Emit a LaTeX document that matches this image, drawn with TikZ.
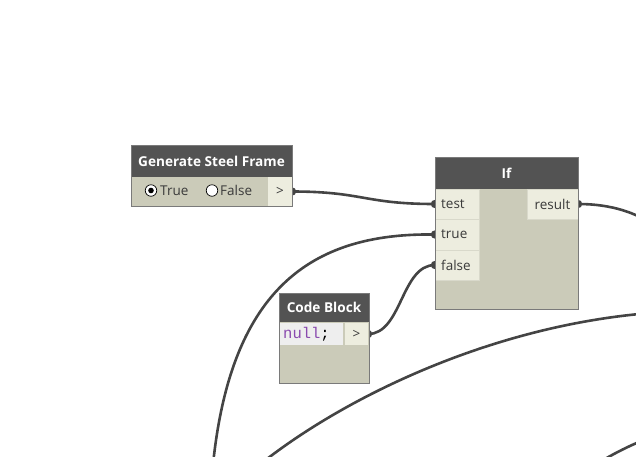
\documentclass[tikz,border=0pt]{standalone}
\usepackage{fontspec}
\setmainfont{Open Sans}
\setmonofont{Liberation Mono}
\definecolor{hdr}{HTML}{535353}
\definecolor{bodyc}{HTML}{CBCBB9}
\definecolor{portc}{HTML}{EDEDDF}
\definecolor{inpc}{HTML}{EEEEEE}
\definecolor{sepc}{HTML}{D9D9CB}
\definecolor{wire}{HTML}{444444}
\definecolor{edgec}{HTML}{7A7A7A}
\definecolor{kw}{HTML}{8A4BAF}
\definecolor{txt}{HTML}{3A3A3A}
\pgfdeclarelayer{background}
\pgfsetlayers{background,main}
\begin{document}
\begin{tikzpicture}[x=1pt,y=-1pt,
  nbody/.style={fill=bodyc,anchor=north west,inner sep=0pt,outer sep=0pt},
  hdrbox/.style={fill=hdr,anchor=north west,inner sep=0pt,outer sep=0pt,text=white,font=\bfseries\fontsize{13.6}{16}\selectfont},
  cell/.style={fill=portc,draw=sepc,line width=0.6pt,anchor=north west,inner sep=0pt,outer sep=0pt,font=\fontsize{13.5}{16}\selectfont,text=txt},
  lbl/.style={anchor=west,inner sep=0pt,font=\fontsize{13.5}{16}\selectfont,text=txt},
  outline/.style={draw=edgec,line width=0.8pt},
  wirestyle/.style={draw=wire,line width=2.6pt},
  portdot/.style={fill=wire},
  radio/.style={circle,draw=black,fill=white,line width=0.7pt,minimum size=11.5pt,inner sep=0pt}
]
\useasboundingbox (0,0) rectangle (636,456);

% ---------- Generate Steel Frame ----------
\node[nbody,minimum width=161pt,minimum height=61pt] (gsf) at (131,145) {};
\node[hdrbox,minimum width=161pt,minimum height=32pt] (gsfh) at (131,145) {Generate Steel Frame};
\node[cell,draw=none,minimum width=24pt,minimum height=29pt] (gsfo) at (268,177) {>};
\node[radio] (rt) at (151,190.5) {};
\fill (rt) circle (2.8pt);
\node[lbl] (lt) at (160,190.5) {True};
\node[radio] (rf) at (212,190.5) {};
\node[lbl] (lf) at (220,190.5) {False};
\draw[outline] (gsf.north west) rectangle (gsf.south east);

% ---------- If ----------
\node[nbody,minimum width=143pt,minimum height=152pt] (ifn) at (435,157) {};
\node[hdrbox,minimum width=143pt,minimum height=32pt] (ifh) at (435,157) {If};
\node[cell,minimum width=44pt,minimum height=30pt] (ifte) at (435,189) {};
\node[cell,minimum width=44pt,minimum height=31pt] (iftr) at (435,219) {};
\node[cell,minimum width=44pt,minimum height=30pt] (iffa) at (435,250) {};
\node[cell,minimum width=51pt,minimum height=30pt] (ifre) at (527,189) {result};
\node[lbl] (lte) at (441,204) {test};
\node[lbl] (ltr) at (441,234.5) {true};
\node[lbl] (lfa) at (441,265) {false};
\draw[outline] (ifn.north west) rectangle (ifn.south east);

% ---------- Code Block ----------
\node[nbody,minimum width=90pt,minimum height=90pt] (cb) at (279,293) {};
\node[hdrbox,minimum width=90pt,minimum height=29pt] (cbh) at (279,293) {Code Block};
\node[cell,draw=none,fill=inpc,minimum width=63pt,minimum height=22pt] (cbi) at (280,323) {};
\node[anchor=west,inner sep=0pt,font=\ttfamily\fontsize{15.5}{17}\selectfont] (cbt) at (283,334) {\textcolor{kw}{null};};
\node[cell,draw=none,minimum width=23pt,minimum height=22pt] (cbo) at (345,323) {>};
\draw[outline] (cb.north west) rectangle (cb.south east);

% free ends of connectors leaving the picture
\coordinate (endA) at (212,475);
\coordinate (endR) at (682,250);
\coordinate (endB1) at (258,466);
\coordinate (endB2) at (700,311);
\coordinate (endC1) at (598,463);
\coordinate (endC2) at (672,430);

% ---------- connectors (behind the nodes) ----------
\begin{pgfonlayer}{background}
\draw[wirestyle] (gsfo.east) .. controls ++(71,0) and ++(-71,0) .. (ifte.west);
\draw[wirestyle] (cbo.east) .. controls ++(34,0) and ++(-34,0) .. (iffa.west);
\draw[wirestyle] (iftr.west) .. controls ++(-125,-2) and (228,290) .. (endA);
\draw[wirestyle] (ifre.east) .. controls ++(52,0) and (660,225) .. (endR);
\draw[wirestyle] (endB1) .. controls (350,392) and (520,311) .. (endB2);
\draw[wirestyle] (endC1) .. controls (620,450) and (640,440) .. (endC2);
\fill[portdot] (gsfo.east) circle (4.2pt);
\fill[portdot] (ifte.west) circle (4.2pt);
\fill[portdot] (iftr.west) circle (4.2pt);
\fill[portdot] (iffa.west) circle (4.2pt);
\fill[portdot] (ifre.east) circle (4.2pt);
\fill[portdot] (cbo.east) circle (4.2pt);
\end{pgfonlayer}
\end{tikzpicture}
\end{document}
